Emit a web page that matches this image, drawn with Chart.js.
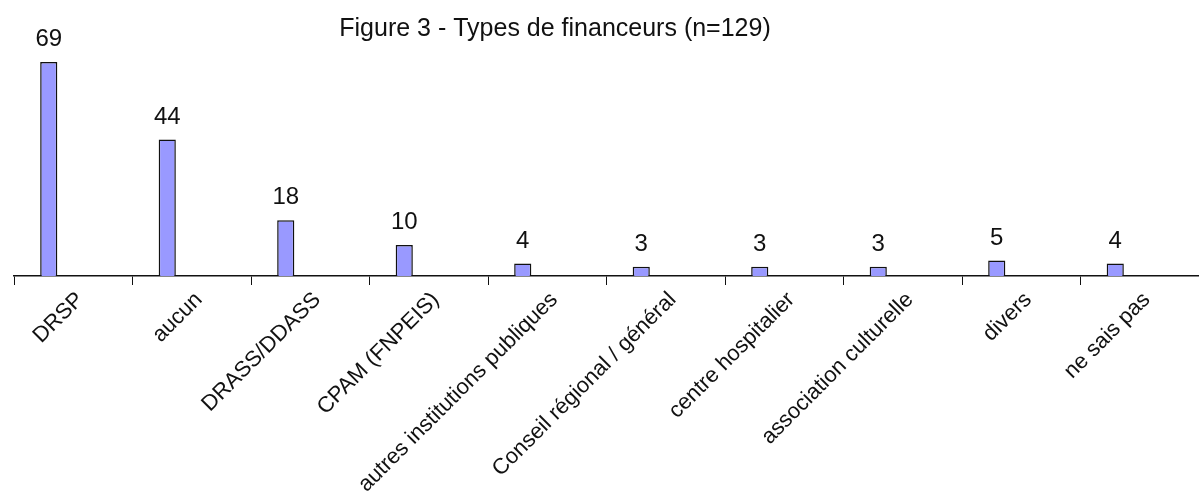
<!DOCTYPE html>
<html>
<head>
<meta charset="utf-8">
<script src="https://cdn.jsdelivr.net/npm/chart.js@4/dist/chart.umd.min.js"></script>
<style>
  html, body { margin: 0; padding: 0; background: #fff; }
  #wrap { width: 1199px; height: 497px; }
</style>
</head>
<body>
<div id="wrap"><canvas id="c" width="1199" height="497"></canvas></div>
<script>
const categories = ["DRSP", "aucun", "DRASS/DDASS", "CPAM (FNPEIS)", "autres institutions publiques", "Conseil régional / général", "centre hospitalier", "association culturelle", "divers", "ne sais pas"];
const values = [69, 44, 18, 10, 4, 3, 3, 3, 5, 4];
const emptySeries = [null, null, null, null, null, null, null, null, null, null];
const chartTitle = "Figure 3 - Types de financeurs (n=129)";

const valueLabels = {
  id: 'valueLabels',
  afterDatasetsDraw(chart) {
    const ctx = chart.ctx;
    const meta = chart.getDatasetMeta(0);
    ctx.save();
    ctx.font = '24px "Liberation Sans", Arial, sans-serif';
    ctx.fillStyle = '#111';
    ctx.textAlign = 'center';
    ctx.textBaseline = 'alphabetic';
    meta.data.forEach((bar, i) => {
      ctx.fillText(String(values[i]), bar.x, bar.y - 16);
    });
    ctx.restore();
  }
};

const titleDraw = {
  id: 'titleDraw',
  afterDraw(chart) {
    const ctx = chart.ctx;
    ctx.save();
    ctx.font = '25px "Liberation Sans", Arial, sans-serif';
    ctx.fillStyle = '#111';
    ctx.textAlign = 'center';
    ctx.textBaseline = 'middle';
    ctx.fillText(chartTitle, 555, 29);
    ctx.restore();
  }
};

new Chart(document.getElementById('c'), {
  type: 'bar',
  data: {
    labels: categories,
    datasets: [
      { data: values, backgroundColor: '#9999FF', borderColor: '#111', borderWidth: 1.5, categoryPercentage: 0.827, barPercentage: 0.35 },
      { data: emptySeries, backgroundColor: '#9999FF', borderColor: '#111', borderWidth: 1.5, categoryPercentage: 0.827, barPercentage: 0.35 }
    ]
  },
  options: {
    responsive: false,
    animation: false,
    layout: { padding: { left: 14, right: 0, top: 28, bottom: 0 } },
    plugins: { legend: { display: false }, tooltip: { enabled: false }, title: { display: false } },
    scales: {
      x: {
        offset: true,
        grid: { display: true, drawOnChartArea: false, drawTicks: true, tickLength: 9, color: '#111', offset: true },
        border: { display: true, color: '#111', width: 1.5 },
        ticks: {
          autoSkip: false, minRotation: 45, maxRotation: 45, padding: 2, labelOffset: 7,
          color: '#111',
          font: { family: '"Liberation Sans", Arial, sans-serif', size: 22 }
        },
        afterFit(scale) { scale.height = 221; }
      },
      y: {
        display: false,
        min: 0,
        max: 80
      }
    }
  },
  plugins: [valueLabels, titleDraw]
});
</script>
</body>
</html>
